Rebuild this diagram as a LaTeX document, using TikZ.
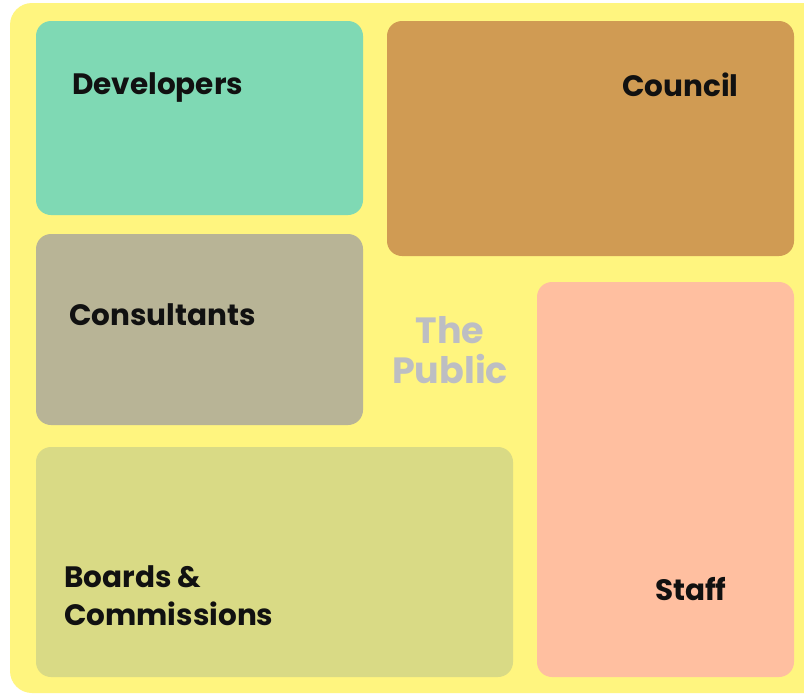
\documentclass[tikz,border=0pt]{standalone}
\usepackage{fontspec}
\setmainfont{Poppins}
\definecolor{bgy}{HTML}{FFF57F}
\definecolor{devc}{HTML}{7FD9B4}
\definecolor{counc}{HTML}{D09B53}
\definecolor{consc}{HTML}{B8B496}
\definecolor{boardc}{HTML}{D9DA85}
\definecolor{staffc}{HTML}{FFBFA0}
\definecolor{pubc}{HTML}{BDBEC3}
\definecolor{txt}{HTML}{111111}
\tikzset{
  panel/.style={rounded corners=15pt, draw=none},
  lbl/.style={anchor=base west, inner sep=0pt, text=txt, font=\fontsize{29.5}{29.5}\selectfont\bfseries},
  pubtxt/.style={anchor=base, inner sep=0pt, text=pubc, font=\fontsize{36.5}{36.5}\selectfont\bfseries},
}
\begin{document}
\begin{tikzpicture}[x=1pt,y=-1pt]
\useasboundingbox (0,0) rectangle (804,694);
\fill[white] (0,0) rectangle (804,694);
\fill[bgy, rounded corners=22pt] (10,3) rectangle (830,693);
\fill[panel, devc] (36,21) rectangle (363,215);
\fill[panel, counc] (387,21) rectangle (794,256);
\fill[panel, consc] (36,234) rectangle (363,425);
\fill[panel, boardc] (36,447) rectangle (513,677);
\fill[panel, staffc] (537,282) rectangle (794,677);
\node[lbl] (dev) at (72,94) {Developers};
\node[lbl] (cou) at (622,96) {Council};
\node[lbl] (con) at (69,325) {Consultants};
\node[lbl] (boa) at (64,587) {Boards \&};
\node[lbl] (com) at (64,625) {Commissions};
\node[lbl] (sta) at (655,600) {Staff};
\node[pubtxt] (the) at (450,343) {The};
\node[pubtxt] (pub) at (450,383) {Public};
\end{tikzpicture}
\end{document}
